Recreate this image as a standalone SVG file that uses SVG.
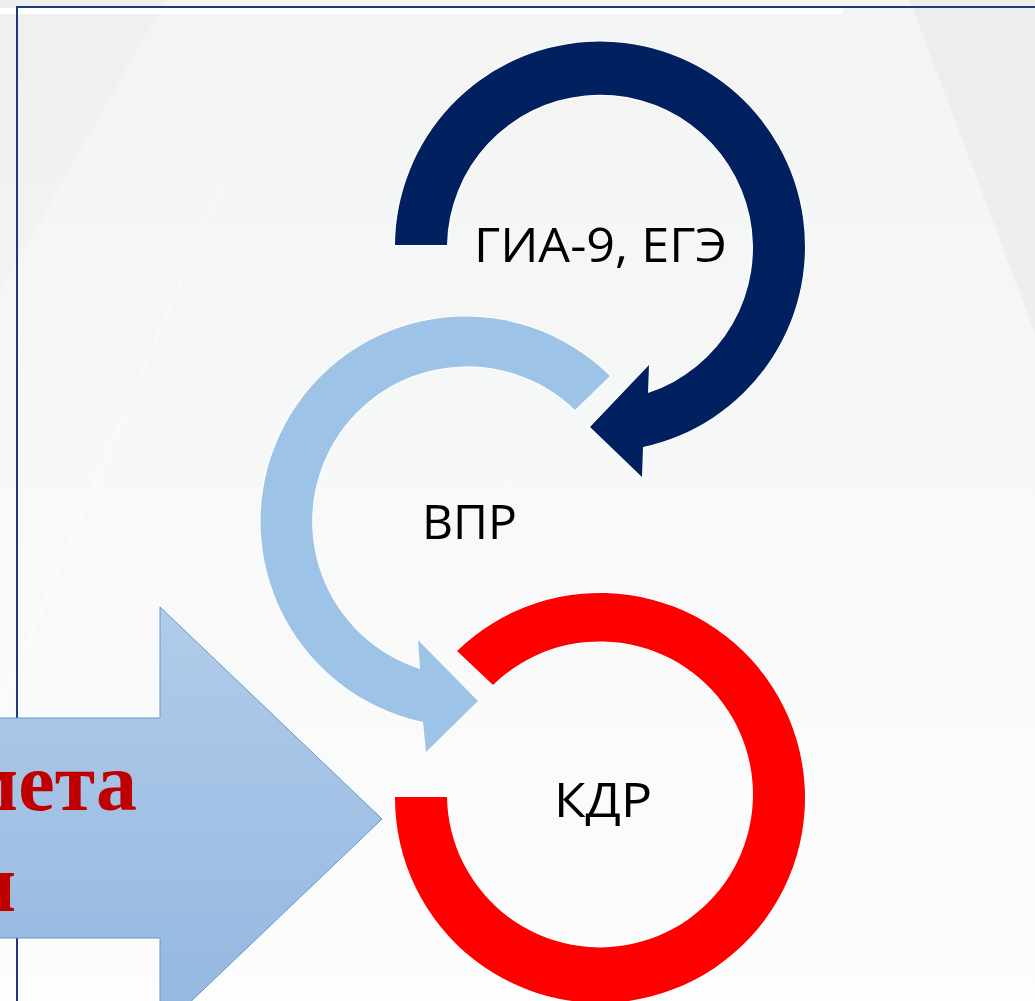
<svg xmlns="http://www.w3.org/2000/svg" width="1035" height="1001" viewBox="0 0 1035 1001">
  <defs>
    <linearGradient id="bg" x1="0" y1="0" x2="0" y2="1">
      <stop offset="0" stop-color="#eeefef"/>
      <stop offset="0.55" stop-color="#f5f6f6"/>
      <stop offset="1" stop-color="#fcfcfc"/>
    </linearGradient>
    <linearGradient id="arrowFill" x1="0" y1="0" x2="0" y2="1">
      <stop offset="0" stop-color="#b2cbe9"/>
      <stop offset="1" stop-color="#93b7e0"/>
    </linearGradient>
    <style>
      .lbl { font-family: "Open Sans", "Liberation Sans", sans-serif; font-size: 48px; fill: #000000; }
      .red { font-family: "Liberation Serif", "Times New Roman", serif; font-weight: bold; font-size: 82px; fill: #c00000; }
      .ring { stroke: #ffffff; stroke-width: 2; paint-order: stroke; }
    </style>
  </defs>

  <!-- background -->
  <rect x="0" y="0" width="1035" height="1001" fill="url(#bg)"/>
  <polygon points="165,0 300,0 -120,1001 -400,1001" fill="#ffffff" opacity="0.3"/>
  <polygon points="300,0 910,0 1035,333 1035,1001 0,1001 0,700" fill="#ffffff" opacity="0.3"/>
  <polygon points="910,0 1035,0 1035,333" fill="#ebecec" opacity="0.7"/>
  <rect x="0" y="8" width="843" height="6" fill="#ffffff"/>

  <!-- frame -->
  <g id="frame" fill="none" stroke="#1f3a78" stroke-width="2">
    <line x1="16" y1="7" x2="1035" y2="7"/>
    <line x1="17" y1="7" x2="17" y2="1001"/>
  </g>

  <!-- connectors (cycle arcs) -->
  <g id="connectors">
    <path class="ring" fill="#002060" d="M 395 245 A 205 205 0 1 1 643 447 L 642 477 L 590 427 L 649 365 L 648 393 A 153 153 0 1 0 447 245 Z"/>
    <path class="ring" fill="#9dc3e6" d="M 610 376 A 205 205 0 1 0 423 722 L 426 752 L 478 701 L 418 640 L 420 669 A 155 155 0 1 1 575 410 Z"/>
    <path class="ring" fill="#ff0000" d="M 457 651 A 205 205 0 1 1 395 797 L 447 797 A 153 153 0 1 0 493 685 Z"/>
  </g>

  <!-- nodes -->
  <g id="node-gia">
    <text class="lbl" x="474" y="262" textLength="253" lengthAdjust="spacingAndGlyphs">ГИА-9, ЕГЭ</text>
  </g>
  <g id="node-vpr">
    <text class="lbl" x="422" y="539" textLength="95" lengthAdjust="spacingAndGlyphs">ВПР</text>
  </g>
  <g id="node-kdr">
    <text class="lbl" x="554" y="817" textLength="98" lengthAdjust="spacingAndGlyphs">КДР</text>
  </g>

  <!-- big arrow -->
  <g id="big-arrow">
    <polygon points="-5,718 160,718 160,607 382,819 160,1031 160,938 -5,938" fill="url(#arrowFill)" stroke="#5b9bd5" stroke-width="1"/>
    <text class="red" x="137" y="810" text-anchor="end">мета</text>
    <text class="red" x="16" y="911" text-anchor="end">и</text>
  </g>
</svg>
